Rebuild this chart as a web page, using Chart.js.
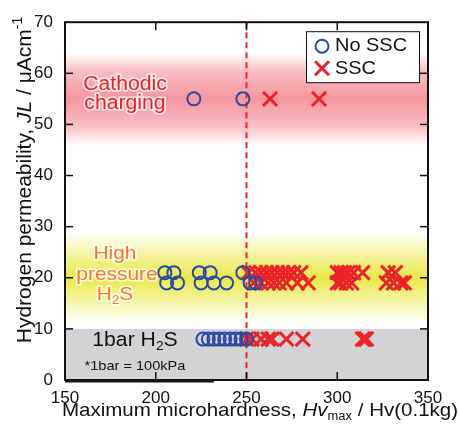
<!DOCTYPE html>
<html>
<head>
<meta charset="utf-8">
<script src="https://cdn.jsdelivr.net/npm/chart.js@4"></script>
<style>
  html, body { margin: 0; padding: 0; background: #fff; }
  #wrap { width: 459px; height: 437px; position: relative; }
</style>
</head>
<body>
<div id="wrap"><canvas id="chart"></canvas></div>
<script>
// ---- data ----
const X_TICKS = [150, 200, 250, 300, 350];
const Y_TICKS = [0, 10, 20, 30, 40, 50, 60, 70];

// Cathodic charging, JL ~ 55
const cathodicNoSSC = [221, 248];
const cathodicSSC = [263, 290];

// High pressure H2S, two rows at JL ~ 21 and ~ 19
const hpNoSSC21 = [205, 210, 224, 230, 248];
const hpNoSSC19 = [206, 212, 225, 232, 239, 252, 255];
const hpSSC21 = [251, 255, 258, 261, 264, 267, 270, 273, 276, 280, 300, 302, 304, 306, 309, 314, 328, 332];
const hpSSC19 = [254, 258, 262, 265, 268, 272, 278, 284, 300, 302, 305, 308, 327, 331, 335, 337];

// 1bar H2S, JL ~ 8
const bar1NoSSC = [226, 229, 232, 235, 238, 241, 244, 247, 250];
const bar1SSC = [250, 253, 258, 262, 264, 272, 281, 314, 315, 316];

const THRESHOLD_HV = 250;
const BAND_CATHODIC = [46, 64];   // JL range of the pink band
const BAND_HP = [11, 29];         // JL range of the yellow band
const BAND_1BAR = [0, 10];        // grey band

const FONT = '"Liberation Sans", Arial, sans-serif';
const BLUE = '#2a48a8';
const RED = '#eb2328';

const pts = (xs, y) => xs.map(x => ({ x, y }));
const noSSC = [...pts(cathodicNoSSC, 55), ...pts(hpNoSSC21, 21), ...pts(hpNoSSC19, 19), ...pts(bar1NoSSC, 8)];
const ssc = [...pts(cathodicSSC, 55), ...pts(hpSSC21, 21), ...pts(hpSSC19, 19), ...pts(bar1SSC, 8)];

// rich text: parts = [{t, italic, sub, sup}]
function drawRich(ctx, parts, cx, cy, o) {
  const size = o.size;
  const fontFor = p => (p.italic ? 'italic ' : '') + Math.round((p.sub || p.sup) ? size * 0.65 : size) + 'px ' + FONT;
  let w = 0;
  parts.forEach(p => { ctx.font = fontFor(p); p.w = ctx.measureText(p.t).width; w += p.w; });
  ctx.save();
  ctx.translate(cx, cy);
  if (o.rotate) ctx.rotate(o.rotate);
  ctx.scale(o.sx || 1, 1);
  ctx.textBaseline = 'middle';
  ctx.textAlign = 'left';
  const start = o.align === 'left' ? 0 : -w / 2;
  const passes = o.halo ? ['halo', 'fill'] : ['fill'];
  passes.forEach(pass => {
    let x0 = start;
    parts.forEach(p => {
      ctx.font = fontFor(p);
      const dy = p.sub ? size * 0.3 : p.sup ? -size * 0.35 : 0;
      if (pass === 'halo') {
        ctx.strokeStyle = 'rgba(255,255,255,0.7)';
        ctx.lineWidth = 3.5;
        ctx.lineJoin = 'round';
        ctx.strokeText(p.t, x0, dy);
      } else {
        ctx.fillStyle = o.color;
        ctx.fillText(p.t, x0, dy);
      }
      x0 += p.w;
    });
  });
  ctx.restore();
}

const bandsPlugin = {
  id: 'bands',
  beforeDatasetsDraw(chart) {
    const { ctx, chartArea: a, scales: { x, y } } = chart;
    ctx.save();
    // grey 1bar band
    const g0 = y.getPixelForValue(BAND_1BAR[1]), g1 = y.getPixelForValue(BAND_1BAR[0]);
    ctx.fillStyle = '#d2d3d5';
    ctx.fillRect(a.left, g0, a.right - a.left, g1 - g0);
    // pink cathodic band
    let t = y.getPixelForValue(BAND_CATHODIC[1]), b = y.getPixelForValue(BAND_CATHODIC[0]);
    let gr = ctx.createLinearGradient(0, t, 0, b);
    gr.addColorStop(0, 'rgba(240,110,120,0)');
    gr.addColorStop(0.2, 'rgba(240,110,120,0.45)');
    gr.addColorStop(0.5, 'rgba(240,110,120,0.72)');
    gr.addColorStop(0.8, 'rgba(240,110,120,0.45)');
    gr.addColorStop(1, 'rgba(240,110,120,0)');
    ctx.fillStyle = gr;
    ctx.fillRect(a.left, t, a.right - a.left, b - t);
    // yellow high pressure band
    t = y.getPixelForValue(BAND_HP[1]); b = y.getPixelForValue(BAND_HP[0]);
    gr = ctx.createLinearGradient(0, t, 0, b);
    gr.addColorStop(0, 'rgba(230,230,50,0)');
    gr.addColorStop(0.25, 'rgba(230,230,50,0.45)');
    gr.addColorStop(0.5, 'rgba(230,230,50,0.9)');
    gr.addColorStop(0.75, 'rgba(230,230,50,0.45)');
    gr.addColorStop(1, 'rgba(230,230,50,0)');
    ctx.fillStyle = gr;
    ctx.fillRect(a.left, t, a.right - a.left, b - t);

    // threshold dashed line
    const px = x.getPixelForValue(THRESHOLD_HV);
    ctx.strokeStyle = RED;
    ctx.lineWidth = 2;
    ctx.setLineDash([6, 4]);
    ctx.beginPath();
    ctx.moveTo(px, a.top);
    ctx.lineTo(px, a.bottom);
    ctx.stroke();
    ctx.setLineDash([]);

    // band labels
    drawRich(ctx, [{ t: 'Cathodic' }], 125, 84, { size: 20, sx: 1.06, color: '#ec2127', halo: true });
    drawRich(ctx, [{ t: 'charging' }], 125, 103, { size: 20, sx: 1.06, color: '#ec2127', halo: true });
    drawRich(ctx, [{ t: 'High' }], 115, 254, { size: 19, sx: 1.1, color: '#f47636', halo: true });
    drawRich(ctx, [{ t: 'pressure' }], 117, 275, { size: 19, sx: 1.1, color: '#f47636', halo: true });
    drawRich(ctx, [{ t: 'H' }, { t: '2', sub: true }, { t: 'S' }], 115, 295, { size: 19, sx: 1.1, color: '#f47636', halo: true });
    drawRich(ctx, [{ t: '1bar H' }, { t: '2', sub: true }, { t: 'S' }], 135, 340, { size: 20, sx: 1.06, color: '#111' });
    drawRich(ctx, [{ t: '*1bar = 100kPa' }], 135, 366, { size: 12.5, sx: 1.12, color: '#111' });
    ctx.restore();
  },
  afterDatasetsDraw(chart) {
    const { ctx, chartArea: a, scales: { x, y } } = chart;
    ctx.save();
    ctx.strokeStyle = '#111';
    const line = (x1, y1, x2, y2) => { ctx.beginPath(); ctx.moveTo(x1, y1); ctx.lineTo(x2, y2); ctx.stroke(); };
    // inward ticks on all four sides
    ctx.lineWidth = 1.5;
    X_TICKS.slice(1, -1).forEach(v => {
      const p = x.getPixelForValue(v);
      line(p, a.bottom, p, a.bottom - 8);
      line(p, a.top, p, a.top + 8);
    });
    Y_TICKS.slice(1, -1).forEach(v => {
      const p = y.getPixelForValue(v);
      line(a.left, p, a.left + 8, p);
      line(a.right, p, a.right - 8, p);
    });
    // frame
    ctx.lineWidth = 2;
    ctx.strokeRect(a.left, a.top, a.right - a.left, a.bottom - a.top);
    ctx.lineWidth = 3.5;
    line(a.left, a.bottom + 0.75, x.getPixelForValue(232), a.bottom + 0.75);

    // legend box
    const lx = a.right - 122, ly = a.top + 9, lw = 113, lh = 51;
    ctx.fillStyle = '#fff';
    ctx.fillRect(lx, ly, lw, lh);
    ctx.lineWidth = 1;
    ctx.strokeRect(lx + 0.5, ly + 0.5, lw, lh);
    ctx.strokeStyle = BLUE;
    ctx.lineWidth = 2;
    ctx.beginPath();
    ctx.arc(lx + 16, ly + 15, 6.5, 0, Math.PI * 2);
    ctx.stroke();
    ctx.strokeStyle = RED;
    ctx.lineWidth = 3;
    const cx = lx + 16, cy = ly + 37, r = 7;
    line(cx - r, cy - r, cx + r, cy + r);
    line(cx - r, cy + r, cx + r, cy - r);
    drawRich(ctx, [{ t: 'No SSC' }], lx + 29, ly + 15, { size: 19, sx: 1.05, color: '#111', align: 'left' });
    drawRich(ctx, [{ t: 'SSC' }], lx + 29, ly + 38, { size: 19, sx: 1.05, color: '#111', align: 'left' });

    // axis titles
    drawRich(ctx, [
      { t: 'Maximum microhardness, ' }, { t: 'Hv', italic: true }, { t: 'max', sub: true }, { t: ' / Hv(0.1kg)' }
    ], 260, 411, { size: 19, sx: 1.08, color: '#111' });
    drawRich(ctx, [
      { t: 'Hydrogen permeability, ' }, { t: 'JL', italic: true }, { t: ' / \u03bcAcm' }, { t: '-1', sup: true }
    ], 25, 180, { size: 21, rotate: -Math.PI / 2, color: '#111' });
    ctx.restore();
  }
};

new Chart(document.getElementById('chart'), {
  type: 'scatter',
  data: {
    datasets: [
      { label: 'No SSC', data: noSSC, pointStyle: 'circle', pointRadius: 6.5, pointBorderWidth: 2,
        borderColor: BLUE, backgroundColor: 'rgba(0,0,0,0)' },
      { label: 'SSC', data: ssc, pointStyle: 'crossRot', pointRadius: 10, pointBorderWidth: 3,
        borderColor: RED, backgroundColor: RED }
    ]
  },
  options: {
    responsive: true, maintainAspectRatio: false, animation: false,
    layout: { padding: { top: 18, right: 31, left: 0, bottom: 0 } },
    plugins: { legend: { display: false }, tooltip: { enabled: false } },
    scales: {
      x: {
        min: 150, max: 350,
        afterFit: s => { s.height = 57; },
        afterBuildTicks: s => { s.ticks = X_TICKS.map(v => ({ value: v })); },
        grid: { display: false, drawTicks: false }, border: { display: false },
        ticks: { padding: 8, color: '#111', font: { family: FONT, size: 17 }, maxRotation: 0 }
      },
      y: {
        min: 0, max: 70,
        afterFit: s => { s.width = 65; },
        afterBuildTicks: s => { s.ticks = Y_TICKS.map(v => ({ value: v })); },
        grid: { display: false, drawTicks: false }, border: { display: false },
        ticks: { padding: 12, color: '#111', font: { family: FONT, size: 17 } }
      }
    }
  },
  plugins: [bandsPlugin]
});
</script>
</body>
</html>
